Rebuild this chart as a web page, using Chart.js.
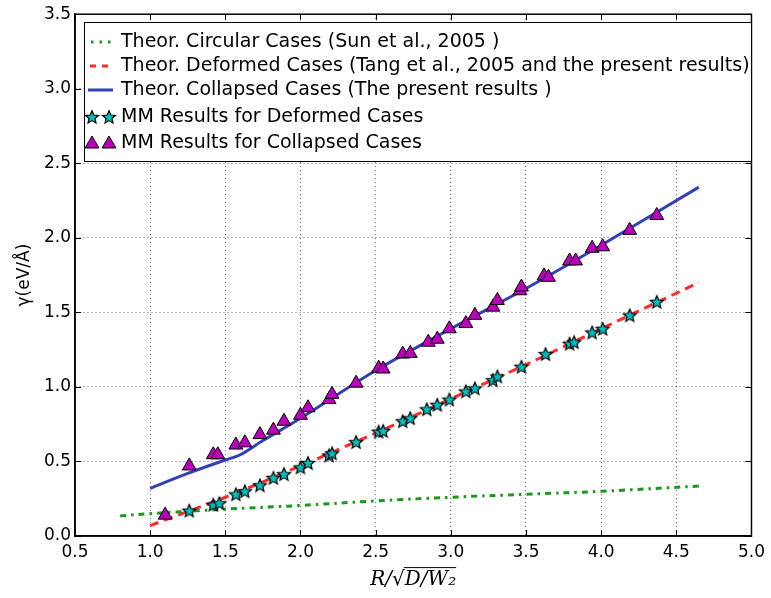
<!DOCTYPE html>
<html>
<head>
<meta charset="utf-8">
<script src="https://cdn.jsdelivr.net/npm/chart.js@4.4.1/dist/chart.umd.min.js"></script>
<style>
  html, body { margin: 0; padding: 0; background: #fff; }
</style>
</head>
<body>
<canvas id="gammaChart" width="771" height="598"></canvas>
<script>
"use strict";

// theoretical curves
const circX = [0.8, 1.0, 1.5, 2.0, 2.5, 3.0, 3.5, 4.0, 4.65];
const circY = [0.135, 0.15, 0.18, 0.205, 0.235, 0.26, 0.28, 0.30, 0.335];

const defX = [1.0, 1.5, 2.0, 2.5, 3.0, 3.5, 4.0, 4.65];
const defY = [0.07, 0.26, 0.47, 0.69, 0.92, 1.15, 1.39, 1.70];

const colX = [1.0, 1.25, 1.5, 1.6, 1.75, 2.0, 2.5, 3.0, 3.5, 4.0, 4.65];
const colY = [0.32, 0.42, 0.51, 0.545, 0.64, 0.79, 1.11, 1.39, 1.66, 1.95, 2.34];

// MM results
const mmDefX = [1.26, 1.42, 1.46, 1.57, 1.63, 1.73, 1.82, 1.89, 2.0, 2.05, 2.19, 2.21, 2.37,
  2.52, 2.55, 2.68, 2.73, 2.84, 2.91, 2.99, 3.1, 3.16, 3.28, 3.31, 3.47, 3.63, 3.79, 3.82,
  3.94, 4.01, 4.19, 4.37];
const mmDefY = [0.17, 0.21, 0.22, 0.28, 0.30, 0.34, 0.39, 0.415, 0.46, 0.49, 0.54, 0.555, 0.63,
  0.70, 0.705, 0.77, 0.79, 0.85, 0.88, 0.915, 0.97, 0.99, 1.045, 1.07, 1.135, 1.22, 1.29, 1.30,
  1.365, 1.39, 1.48, 1.57];

const mmColX = [1.1, 1.26, 1.42, 1.45, 1.57, 1.63, 1.73, 1.82, 1.89, 2.0, 2.05, 2.19, 2.21, 2.37,
  2.52, 2.55, 2.68, 2.73, 2.85, 2.91, 2.99, 3.1, 3.16, 3.28, 3.31, 3.46, 3.47, 3.62, 3.65, 3.79,
  3.83, 3.94, 4.01, 4.19, 4.37];
const mmColY = [0.14, 0.47, 0.545, 0.545, 0.61, 0.625, 0.68, 0.71, 0.77, 0.81, 0.86, 0.915, 0.95,
  1.025, 1.125, 1.12, 1.22, 1.225, 1.30, 1.32, 1.39, 1.425, 1.48, 1.535, 1.58, 1.645, 1.67, 1.745,
  1.735, 1.845, 1.845, 1.93, 1.94, 2.05, 2.15];

const legendLabels = [
  "Theor. Circular Cases (Sun et al., 2005 )",
  "Theor. Deformed Cases (Tang et al., 2005 and the present results)",
  "Theor. Collapsed Cases (The present results )",
  "MM Results for Deformed Cases",
  "MM Results for Collapsed Cases",
];

const xTitle = "R/\u221AD/W\u2082";
const yTitle = "\u03B3(eV/\u00C5)";

const pts = (xs, ys) => xs.map((x, i) => ({ x: x, y: ys[i] }));

// filled five-point star, Chart.js 'star' is only an asterisk
function makeStar(outer, inner, fill) {
  const c = document.createElement("canvas");
  const s = Math.ceil(outer * 2 + 4);
  c.width = s;
  c.height = s;
  const g = c.getContext("2d");
  g.translate(s / 2, s / 2 + 0.5);
  g.beginPath();
  for (let k = 0; k < 10; k++) {
    const r = k % 2 === 0 ? outer : inner;
    const a = -Math.PI / 2 + (k * Math.PI) / 5;
    g.lineTo(Math.cos(a) * r, Math.sin(a) * r);
  }
  g.closePath();
  g.fillStyle = fill;
  g.fill();
  g.lineWidth = 1.2;
  g.strokeStyle = "#000";
  g.stroke();
  return c;
}
const starImg = makeStar(6.8, 3.1, "#00BFBF");

const green = "#1a9a1a";
const red = "#ff2a2a";
const blue = "#3341b5";
const magenta = "#BB00BB";

const legendFont = '19px "DejaVu Sans"';

const frameAndTicks = {
  id: "frameAndTicks",
  afterDraw(chart) {
    const { ctx, chartArea: a, scales } = chart;
    ctx.save();
    ctx.strokeStyle = "#000";
    ctx.lineWidth = 1;
    ctx.beginPath();
    scales.x.ticks.forEach((t) => {
      const px = Math.round(scales.x.getPixelForValue(t.value)) + 0.5;
      ctx.moveTo(px, a.bottom);
      ctx.lineTo(px, a.bottom - 6);
      ctx.moveTo(px, a.top);
      ctx.lineTo(px, a.top + 6);
    });
    scales.y.ticks.forEach((t) => {
      const py = Math.round(scales.y.getPixelForValue(t.value)) + 0.5;
      ctx.moveTo(a.left, py);
      ctx.lineTo(a.left + 6, py);
      ctx.moveTo(a.right, py);
      ctx.lineTo(a.right - 6, py);
    });
    ctx.stroke();
    ctx.lineWidth = 1.5;
    ctx.strokeRect(a.left, a.top, a.right - a.left, a.bottom - a.top);

    // overline of the square root in the x title
    const xs = scales.x;
    const tf = xs.options.title.font;
    ctx.font = "italic " + tf.size + 'px "DejaVu Serif"';
    const full = ctx.measureText(xTitle).width;
    const pre = ctx.measureText("R/\u221A").width;
    const cx = (xs.left + xs.right) / 2;
    const ty = xs.bottom - (tf.size * 1.2) / 2 - xs.options.title.padding.bottom;
    ctx.lineWidth = 1;
    ctx.beginPath();
    ctx.moveTo(cx - full / 2 + pre - 1, ty - tf.size * 0.62);
    ctx.lineTo(cx + full / 2, ty - tf.size * 0.62);
    ctx.stroke();

    // legend box inside the axes
    const box = { left: 84, top: 22, right: 751, bottom: 161 };
    ctx.fillStyle = "#fff";
    ctx.fillRect(box.left, box.top, box.right - box.left, box.bottom - box.top);
    ctx.lineWidth = 1;
    ctx.strokeRect(box.left + 0.5, box.top + 0.5, box.right - box.left, box.bottom - box.top);
    const rows = [42, 66, 90, 117, 143];
    const h0 = 92, h1 = 109;
    ctx.lineWidth = 3;
    ctx.strokeStyle = green;
    ctx.setLineDash([2.5, 6]);
    ctx.beginPath();
    ctx.moveTo(h0 - 1, rows[0]);
    ctx.lineTo(h1 + 2, rows[0]);
    ctx.stroke();
    ctx.strokeStyle = red;
    ctx.setLineDash([6, 6]);
    ctx.beginPath();
    ctx.moveTo(h0 - 2, rows[1]);
    ctx.lineTo(h1 + 2, rows[1]);
    ctx.stroke();
    ctx.strokeStyle = blue;
    ctx.setLineDash([]);
    ctx.beginPath();
    ctx.moveTo(h0 - 4, rows[2]);
    ctx.lineTo(h1 + 4, rows[2]);
    ctx.stroke();
    ctx.fillStyle = magenta;
    ctx.strokeStyle = "#000";
    ctx.lineWidth = 1;
    [h0, h1].forEach((hx) => {
      ctx.drawImage(starImg, hx - starImg.width / 2, rows[3] - starImg.height / 2);
      Chart.helpers.drawPoint(ctx, { pointStyle: "triangle", radius: 8, borderWidth: 1 }, hx, rows[4] + 1);
    });
    ctx.fillStyle = "#000";
    ctx.font = legendFont;
    ctx.textBaseline = "middle";
    ctx.textAlign = "left";
    legendLabels.forEach((lab, i) => ctx.fillText(lab, 121, rows[i]));
    ctx.restore();
  },
};

const gridStyle = {
  color: "rgba(0,0,0,0.6)",
  lineWidth: 1,
  drawTicks: false,
};
const borderStyle = { display: true, color: "#000", width: 1.5, dash: [1, 3] };

const config = {
  type: "scatter",
  data: {
    datasets: [
      {
        label: legendLabels[4],
        data: pts(mmColX, mmColY),
        pointStyle: "triangle",
        pointRadius: 8,
        pointBackgroundColor: magenta,
        pointBorderColor: "#000",
        pointBorderWidth: 1,
        order: 1,
      },
      {
        label: legendLabels[3],
        data: pts(mmDefX, mmDefY),
        pointStyle: starImg,
        pointRadius: 8,
        order: 1,
      },
      {
        label: legendLabels[0],
        data: pts(circX, circY),
        showLine: true,
        borderColor: green,
        borderWidth: 3,
        borderDash: [6, 5, 2.5, 5],
        pointRadius: 0,
        tension: 0.4,
        order: 2,
      },
      {
        label: legendLabels[1],
        data: pts(defX, defY),
        showLine: true,
        borderColor: red,
        borderWidth: 3,
        borderDash: [9, 6],
        pointRadius: 0,
        tension: 0.3,
        order: 2,
      },
      {
        label: legendLabels[2],
        data: pts(colX, colY),
        showLine: true,
        borderColor: blue,
        borderWidth: 3,
        pointRadius: 0,
        tension: 0.3,
        order: 2,
      },
    ],
  },
  options: {
    responsive: false,
    animation: false,
    layout: { padding: { top: 14, right: 18, left: 0, bottom: 0 } },
    plugins: {
      legend: { display: false },
      tooltip: { enabled: false },
    },
    scales: {
      x: {
        type: "linear",
        min: 0.5,
        max: 5.0,
        afterFit: (scale) => { scale.height = 62; },
        grid: gridStyle,
        border: borderStyle,
        ticks: {
          stepSize: 0.5,
          padding: 6,
          color: "#000",
          font: { family: "DejaVu Sans", size: 17 },
          callback: (v) => v.toFixed(1),
        },
        title: {
          display: true,
          text: xTitle,
          color: "#000",
          font: { family: "DejaVu Serif", size: 20, style: "italic" },
          padding: { top: 0, bottom: 6 },
        },
      },
      y: {
        type: "linear",
        min: 0,
        max: 3.5,
        afterFit: (scale) => { scale.width = 75; },
        grid: gridStyle,
        border: borderStyle,
        ticks: {
          stepSize: 0.5,
          padding: 4,
          color: "#000",
          font: { family: "DejaVu Sans", size: 17 },
          callback: (v) => v.toFixed(1),
        },
        title: {
          display: true,
          text: yTitle,
          color: "#000",
          font: { family: "DejaVu Sans", size: 17 },
          padding: { top: 14, bottom: 0 },
        },
      },
    },
  },
  plugins: [frameAndTicks],
};

const gammaChart = new Chart(document.getElementById("gammaChart"), config);
</script>
</body>
</html>
